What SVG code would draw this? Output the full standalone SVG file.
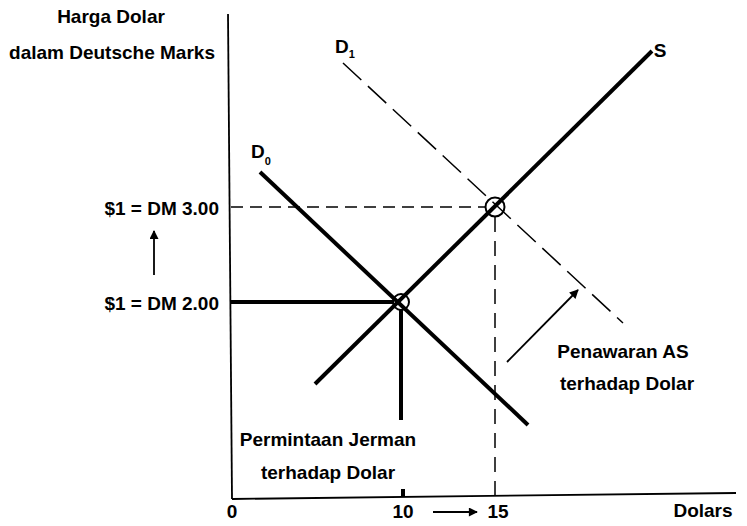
<svg xmlns="http://www.w3.org/2000/svg" width="747" height="526" viewBox="0 0 747 526">
<style>
text{font-family:"Liberation Sans",Arial,sans-serif;font-weight:bold;font-size:19px;fill:#000}
.m{text-anchor:middle}
.e{text-anchor:end}
.sub{font-size:11px}
.ax{stroke:#000;stroke-width:1.8;fill:none}
.thick{stroke:#000;stroke-width:4;fill:none}
.dash{stroke:#000;stroke-width:1.5;fill:none}
</style>
<defs>
<marker id="ah" viewBox="0 0 10 10" refX="9" refY="5" markerWidth="7" markerHeight="7" orient="auto" markerUnits="userSpaceOnUse">
<path d="M0,0 L10,5 L0,10 z" fill="#000"/>
</marker>
<marker id="ah2" viewBox="0 0 10 10" refX="9" refY="5" markerWidth="12" markerHeight="9" orient="auto" markerUnits="userSpaceOnUse">
<path d="M0,0 L10,5 L0,10 z" fill="#000"/>
</marker>
</defs>
<g id="axes">
<line class="ax" x1="228" y1="14" x2="232" y2="499"/>
<line class="ax" x1="232" y1="499" x2="736" y2="493"/>
</g>
<g id="connectors">
<line class="dash" x1="231" y1="207" x2="486" y2="207" stroke-dasharray="12 7"/>
<line class="dash" x1="495" y1="217" x2="495" y2="496" stroke-dasharray="15 9"/>
<line class="thick" x1="231" y1="302" x2="394" y2="302"/>
<line class="thick" x1="401" y1="309" x2="401" y2="420"/>
<line class="thick" x1="403" y1="489" x2="403" y2="497"/>
<line class="dash" x1="343" y1="63" x2="623" y2="323" stroke-dasharray="25 9"/>
<line class="ax" x1="154" y1="275" x2="154" y2="231" marker-end="url(#ah2)"/>
<line class="ax" x1="507" y1="362" x2="578" y2="290" marker-end="url(#ah2)"/>
<line class="ax" x1="433" y1="512" x2="477" y2="512" marker-end="url(#ah2)"/>
</g>
<g id="curve-S">
<line class="thick" x1="315" y1="384" x2="652" y2="51"/>
<text x="660" y="57" class="m">S</text>
</g>
<g id="curve-D0">
<line class="thick" x1="260" y1="172" x2="528" y2="425"/>
<text x="251" y="158">D<tspan class="sub" dy="7" font-size="10">0</tspan></text>
</g>
<g id="curve-D1">
<text x="335" y="53">D<tspan class="sub" dy="5">1</tspan></text>
</g>
<g id="point-eq0">
<circle cx="401" cy="302" r="8" fill="none" stroke="#000" stroke-width="2"/>
</g>
<g id="point-eq1">
<circle cx="495" cy="207" r="9.5" fill="none" stroke="#000" stroke-width="2"/>
</g>
<g id="labels">
<text x="111" y="23" class="m">Harga Dolar</text>
<text x="112" y="59" class="m">dalam Deutsche Marks</text>
<text x="219" y="215" class="e">$1 = DM 3.00</text>
<text x="219" y="310" class="e">$1 = DM 2.00</text>
<text x="328" y="446" class="m">Permintaan Jerman</text>
<text x="328" y="479" class="m">terhadap Dolar</text>
<text x="623" y="358" class="m">Penawaran AS</text>
<text x="627" y="390" class="m">terhadap Dolar</text>
<text x="232" y="518" class="m">0</text>
<text x="403" y="518" class="m">10</text>
<text x="498" y="518" class="m">15</text>
<text x="703" y="517" class="m">Dolars</text>
</g>
</svg>
